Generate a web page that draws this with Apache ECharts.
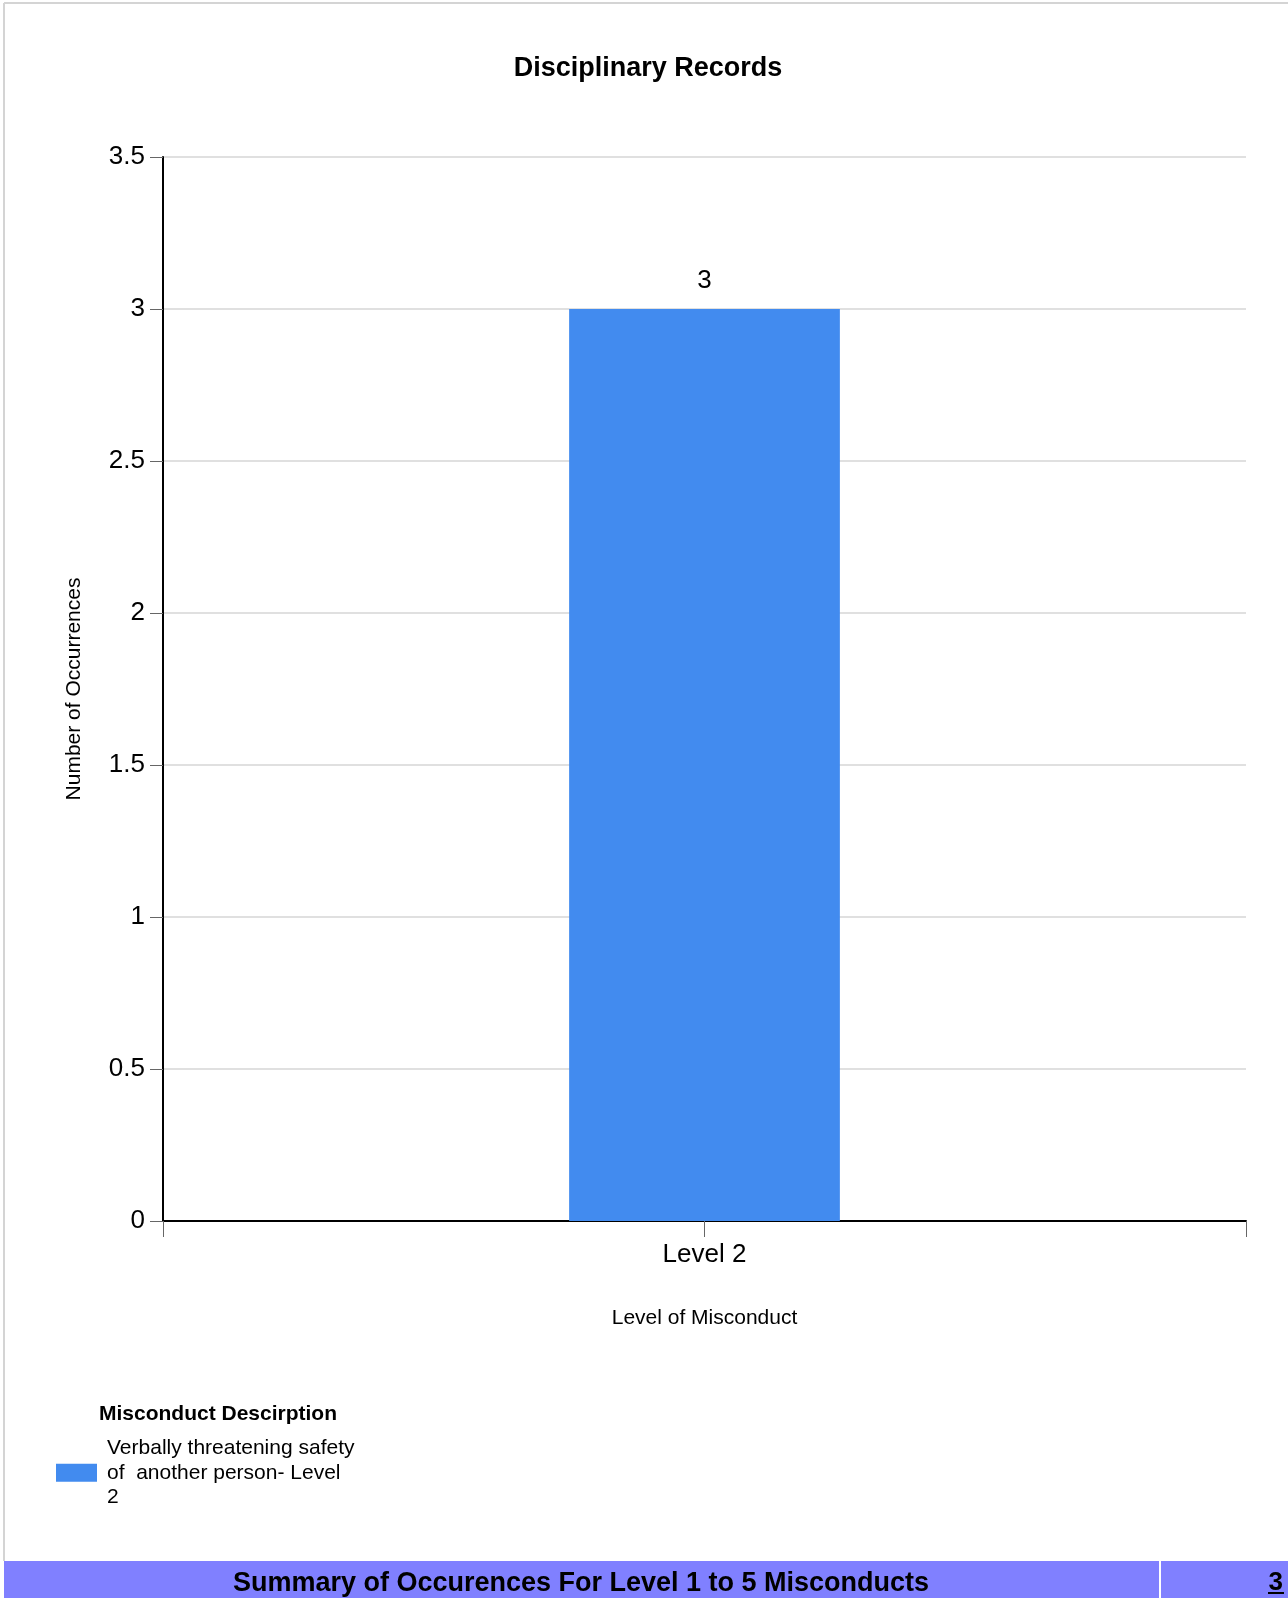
<!DOCTYPE html>
<html>
<head>
<meta charset="utf-8">
<script src="https://cdn.jsdelivr.net/npm/echarts@6/dist/echarts.min.js"></script>
<style>
html,body{margin:0;padding:0;background:#fff;}
#chart{width:1288px;height:1598px;}
</style>
</head>
<body>
<div id="chart"></div>
<script>
const categories = ['Level 2'];
const values = [3];
const seriesName = 'Verbally threatening safety of  another person- Level 2';
const legendLines = ['Verbally threatening safety', 'of  another person- Level', '2'];
const yTicks = [0, 0.5, 1, 1.5, 2, 2.5, 3, 3.5];
const summaryLabel = 'Summary of Occurences For Level 1 to 5 Misconducts';
const summaryTotal = '3';

const FONT = 'Liberation Sans, Arial, sans-serif';
const chart = echarts.init(document.getElementById('chart'), null, {renderer: 'canvas'});

chart.setOption({
  animation: false,
  backgroundColor: '#fff',
  textStyle: {fontFamily: FONT, color: '#000'},
  title: [
    {text: 'Disciplinary Records', left: 643, top: 50, textAlign: 'center',
     textStyle: {fontFamily: FONT, fontSize: 27, fontWeight: 'bold', color: '#000'}},
    {text: 'Misconduct Descirption', left: 99, top: 1404, padding: 0,
     textStyle: {fontFamily: FONT, fontSize: 21, fontWeight: 'bold', color: '#000'}}
  ],
  legend: {
    left: 56, top: 1436, padding: 0, orient: 'vertical',
    itemWidth: 41, itemHeight: 18,
    icon: 'rect',
    formatter: function () { return legendLines.join('\n'); },
    textStyle: {fontFamily: FONT, fontSize: 21, lineHeight: 24.5, color: '#000', padding: [0, 0, 0, 5]},
    data: [seriesName]
  },
  grid: {left: 163, top: 157, width: 1083, height: 1064, containLabel: false},
  xAxis: [
    {
      type: 'category', data: categories, position: 'bottom',
      name: 'Level of Misconduct', nameLocation: 'middle', nameGap: 87,
      nameTextStyle: {fontFamily: FONT, fontSize: 21, color: '#000'},
      axisLine: {show: true, lineStyle: {color: '#000', width: 2}},
      axisTick: {show: true, alignWithLabel: false, interval: 0, length: 16, lineStyle: {color: '#666'}},
      axisLabel: {fontFamily: FONT, fontSize: 26, color: '#000', margin: 21}
    },
    {
      type: 'category', data: categories, position: 'bottom',
      axisLine: {show: false},
      axisTick: {show: true, alignWithLabel: true, length: 16, lineStyle: {color: '#666'}},
      axisLabel: {show: false}, splitLine: {show: false}
    }
  ],
  yAxis: {
    type: 'value', min: yTicks[0], max: yTicks[yTicks.length - 1], interval: 0.5,
    name: 'Number of Occurrences', nameLocation: 'middle', nameGap: 78,
    nameTextStyle: {fontFamily: FONT, fontSize: 21, color: '#000'},
    axisLine: {show: true, lineStyle: {color: '#000', width: 2}},
    axisTick: {show: true, length: 13, lineStyle: {color: '#666'}},
    axisLabel: {fontFamily: FONT, fontSize: 26, color: '#000', margin: 18},
    splitLine: {show: true, lineStyle: {color: '#e0e0e0', width: 2}}
  },
  series: [{
    name: seriesName, type: 'bar', data: values, barWidth: '25%',
    xAxisIndex: 0,
    itemStyle: {color: '#428bef'},
    label: {show: true, position: 'top', distance: 15, fontFamily: FONT, fontSize: 26, color: '#000'}
  }],
  graphic: [
    {type: 'line', shape: {x1: 4, y1: 3, x2: 1288, y2: 3}, style: {stroke: '#d4d4d4', lineWidth: 2}},
    {type: 'line', shape: {x1: 4, y1: 3, x2: 4, y2: 1561}, style: {stroke: '#d4d4d4', lineWidth: 2}},
    {type: 'rect', shape: {x: 4, y: 1561, width: 1155, height: 37}, style: {fill: '#8080ff'}},
    {type: 'rect', shape: {x: 1161, y: 1561, width: 127, height: 37}, style: {fill: '#8080ff'}},
    {type: 'text', x: 581, y: 1584, style: {text: summaryLabel, fontFamily: FONT, fontSize: 27, fontWeight: 'bold', fill: '#000', textAlign: 'center', textVerticalAlign: 'middle'}},
    {type: 'text', x: 1283, y: 1583, style: {text: summaryTotal, fontFamily: FONT, fontSize: 26, fontWeight: 'bold', fill: '#000', textAlign: 'right', textVerticalAlign: 'middle'}},
    {type: 'line', shape: {x1: 1268, y1: 1593, x2: 1284, y2: 1593}, style: {stroke: '#000', lineWidth: 2}}
  ]
});
</script>
</body>
</html>
